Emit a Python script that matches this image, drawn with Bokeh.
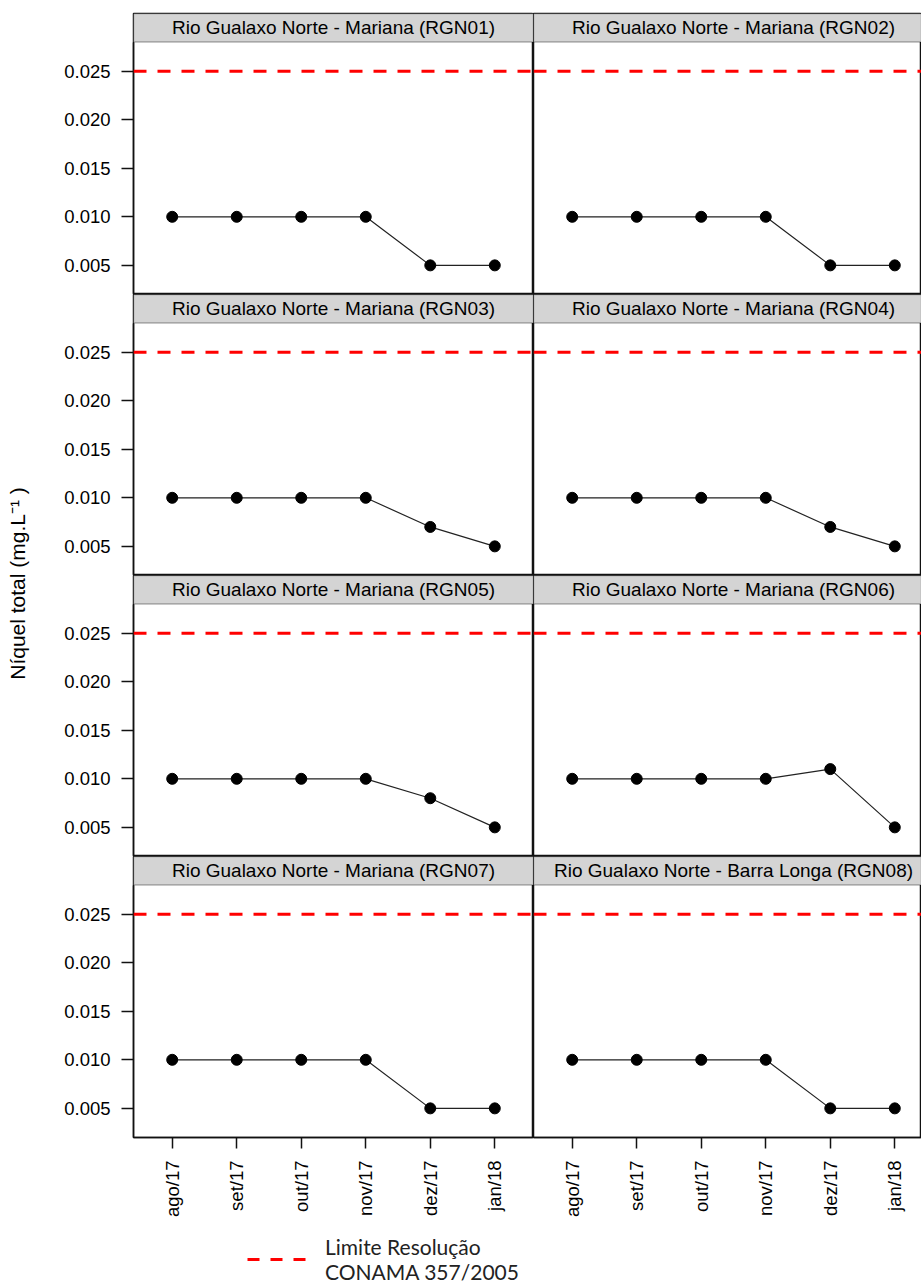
import math
from bokeh.plotting import figure
from bokeh.models import (Range1d, FixedTicker, BoxAnnotation, Span, Label,
                          Legend, LegendItem, NumeralTickFormatter)
from bokeh.layouts import row, column
from bokeh.embed import file_html
from bokeh.resources import INLINE

# ---------------- data ----------------
months = ["ago/17", "set/17", "out/17", "nov/17", "dez/17", "jan/18"]
month_pos = [1, 2, 3, 4, 5, 6]

titles = [
    "Rio Gualaxo Norte - Mariana (RGN01)",
    "Rio Gualaxo Norte - Mariana (RGN02)",
    "Rio Gualaxo Norte - Mariana (RGN03)",
    "Rio Gualaxo Norte - Mariana (RGN04)",
    "Rio Gualaxo Norte - Mariana (RGN05)",
    "Rio Gualaxo Norte - Mariana (RGN06)",
    "Rio Gualaxo Norte - Mariana (RGN07)",
    "Rio Gualaxo Norte - Barra Longa (RGN08)",
]
rgn01 = [0.010, 0.010, 0.010, 0.010, 0.005, 0.005]
rgn02 = [0.010, 0.010, 0.010, 0.010, 0.005, 0.005]
rgn03 = [0.010, 0.010, 0.010, 0.010, 0.007, 0.005]
rgn04 = [0.010, 0.010, 0.010, 0.010, 0.007, 0.005]
rgn05 = [0.010, 0.010, 0.010, 0.010, 0.008, 0.005]
rgn06 = [0.010, 0.010, 0.010, 0.010, 0.011, 0.005]
rgn07 = [0.010, 0.010, 0.010, 0.010, 0.005, 0.005]
rgn08 = [0.010, 0.010, 0.010, 0.010, 0.005, 0.005]
series = [rgn01, rgn02, rgn03, rgn04, rgn05, rgn06, rgn07, rgn08]

limit_conama = 0.025
y_ticks = [0.005, 0.010, 0.015, 0.020, 0.025]
y_label = "Níquel total (mg.L\u207b\u00b9 )"
legend_label = "Limite Resolução\nCONAMA 357/2005"

# ---------------- layout constants ----------------
YMIN, YMAX = 0.002, 0.028
X_LO, X_HI = 0.4, 6.6
FRAME_H = 281
STRIP_PX = 28.5
LEFT_FW = 400
RIGHT_FW = 388
LEFT_BORDER = 95
TOP_BORDER = 13
BOTTOM_BORDER = 84
YLAB_W = 38
TOTAL_W = YLAB_W + LEFT_BORDER + LEFT_FW + RIGHT_FW
GRID_H = TOP_BORDER + 4 * FRAME_H + BOTTOM_BORDER
LEG_H = 1284 - GRID_H

Y_END = YMAX + (YMAX - YMIN) * STRIP_PX / (FRAME_H - STRIP_PX)
FONT = "Liberation Sans"
LINE_COL = "#111111"


def make_panel(idx, col, r):
    fw = LEFT_FW if col == 0 else RIGHT_FW
    bl = LEFT_BORDER if col == 0 else 0
    bt = TOP_BORDER if r == 0 else 0
    bb = BOTTOM_BORDER if r == 3 else 0
    x_hi = X_LO + (X_HI - X_LO) * fw / LEFT_FW
    p = figure(width=fw + bl, height=FRAME_H + bt + bb,
               x_range=Range1d(X_LO, x_hi), y_range=Range1d(YMIN, Y_END),
               output_backend="svg", toolbar_location=None,
               x_axis_location="below" if r == 3 else None,
               y_axis_location="left" if col == 0 else None,
               min_border=0, min_border_left=bl, min_border_right=0,
               min_border_top=bt, min_border_bottom=bb)
    p.xgrid.visible = False
    p.ygrid.visible = False
    p.outline_line_color = LINE_COL
    p.outline_line_width = 1.5
    p.background_fill_color = "white"
    p.border_fill_color = "white"

    if col == 0:
        ax = p.yaxis[0]
        ax.ticker = FixedTicker(ticks=y_ticks)
        ax.formatter = NumeralTickFormatter(format="0.000")
        ax.bounds = (YMIN, YMAX)
        ax.major_tick_out = 12
        ax.major_tick_in = 0
        ax.minor_tick_line_color = None
        ax.major_tick_line_color = LINE_COL
        ax.major_tick_line_width = 1.5
        ax.axis_line_color = LINE_COL
        ax.axis_line_width = 1.5
        ax.major_label_standoff = 11
        ax.major_label_text_font = FONT
        ax.major_label_text_font_size = "18.5px"
        ax.major_label_text_color = "black"
    if r == 3:
        ax = p.xaxis[0]
        ax.ticker = FixedTicker(ticks=month_pos)
        ax.major_label_overrides = {m: lab for m, lab in zip(month_pos, months)}
        ax.major_label_orientation = math.pi / 2
        ax.major_tick_out = 11
        ax.major_tick_in = 0
        ax.minor_tick_line_color = None
        ax.major_tick_line_color = LINE_COL
        ax.major_tick_line_width = 1.5
        ax.axis_line_color = LINE_COL
        ax.axis_line_width = 1.5
        ax.major_label_standoff = 12
        ax.major_label_text_font = FONT
        ax.major_label_text_font_size = "18.5px"
        ax.major_label_text_color = "black"

    # limit line
    p.add_layout(Span(location=limit_conama, dimension="width",
                      line_color="#FF0000", line_width=3, line_dash="13 11"))
    # data
    p.line(month_pos, series[idx], line_color="#222222", line_width=1.2)
    p.scatter(month_pos, series[idx], size=11, marker="circle",
              fill_color="black", line_color="black")
    # strip
    p.add_layout(BoxAnnotation(bottom=YMAX, fill_color="#D4D4D4", fill_alpha=1.0,
                               line_color=LINE_COL, line_width=1.5))
    p.add_layout(Label(x=(X_LO + X_HI) / 2, y=(YMAX + Y_END) / 2, text=titles[idx],
                       text_align="center", text_baseline="middle",
                       text_font=FONT, text_font_size="19px", text_color="black"))
    return p


rows = []
for r in range(4):
    left = make_panel(2 * r, 0, r)
    right = make_panel(2 * r + 1, 1, r)
    rows.append(row(left, right, spacing=0))
grid = column(*rows, spacing=0)

# y-axis label figure
yf = figure(width=YLAB_W, height=GRID_H, x_range=Range1d(0, YLAB_W),
            y_range=Range1d(0, GRID_H), output_backend="svg", toolbar_location=None,
            x_axis_location=None, y_axis_location=None, min_border=0,
            outline_line_color=None)
yf.xgrid.visible = False
yf.ygrid.visible = False
yf.add_layout(Label(x=17, y=GRID_H - 583, text=y_label, angle=math.pi / 2,
                    text_align="center", text_baseline="middle",
                    text_font=FONT, text_font_size="21px", text_color="black"))

# legend figure (line proxy lies outside the visible range; only its legend entry shows)
lf = figure(width=TOTAL_W, height=LEG_H, x_range=Range1d(0, 1), y_range=Range1d(1, 2),
            output_backend="svg", toolbar_location=None,
            x_axis_location=None, y_axis_location=None, min_border=0,
            outline_line_color=None)
lf.xgrid.visible = False
lf.ygrid.visible = False
lr = lf.line(x=[X_LO, X_HI], y=[limit_conama, limit_conama],
             line_color="#FF0000", line_width=3, line_dash="12 11")
leg = Legend(items=[LegendItem(label=legend_label, renderers=[lr])],
             location=(247, 0), orientation="vertical",
             border_line_color=None, background_fill_alpha=0,
             padding=0, margin=0, spacing=0,
             glyph_width=62, glyph_height=20, label_standoff=16,
             label_text_font="Lato", label_text_font_size="21px",
             label_text_color="#222222", label_text_line_height=1.3)
lf.add_layout(leg)

layout = column(row(yf, grid, spacing=0), lf, spacing=0)

with open("out.html", "w") as f:
    f.write(file_html(layout, INLINE))
